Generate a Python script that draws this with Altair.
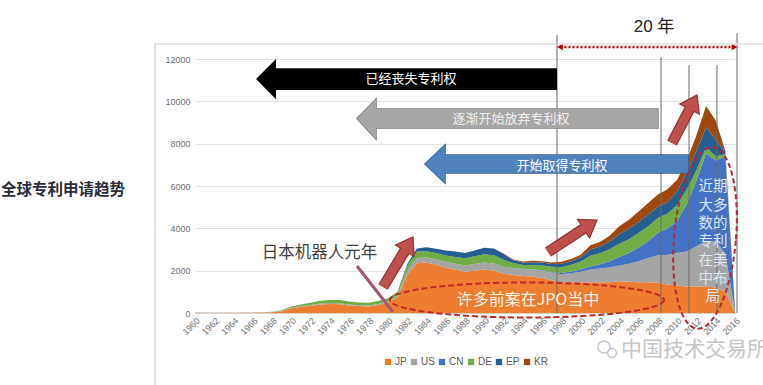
import altair as alt
import pandas as pd

# ---------------- data ----------------
years = list(range(1960, 2017))
series_names = ["JP", "US", "CN", "DE", "EP", "KR"]
series_colors = ["#ED7D31", "#A5A5A5", "#4472C4", "#70AD47", "#255E91", "#9E480E"]

jp = [10, 10, 12, 12, 15, 15, 18, 20, 30,
      80, 220, 290, 340, 400, 420, 410, 360, 330, 310, 380,
      500, 750, 1800, 2350, 2380, 2280, 2150, 2050, 1950, 2000,
      2050, 2000, 1850, 1800, 1750, 1720, 1650, 1550, 1450, 1450,
      1450, 1450, 1450, 1450, 1500, 1480, 1450, 1450, 1430, 1350,
      1300, 1250, 1250, 1250, 1200, 1000, 40]
us = [8, 8, 10, 10, 12, 12, 14, 16, 20,
      20, 25, 30, 40, 50, 50, 50, 45, 40, 40, 45,
      50, 80, 180, 250, 240, 260, 270, 280, 300, 320,
      340, 340, 330, 320, 330, 340, 350, 360, 380, 430,
      500, 600, 650, 700, 750, 850, 1000, 1150, 1300, 1400,
      1550, 1650, 1900, 2150, 2200, 1800, 50]
cn = [0] * 33 + [10, 10, 10, 20, 30, 60, 80,
                 100, 150, 200, 300, 400, 500, 650, 800, 1050, 1250,
                 1500, 2250, 3100, 4150, 3800, 4600, 80]
de = [0, 0, 0, 0, 0, 0, 0, 2, 5,
      30, 60, 80, 100, 130, 150, 150, 140, 130, 130, 140,
      150, 170, 250, 300, 300, 290, 300, 320, 340, 360,
      380, 390, 330, 230, 180, 200, 220, 240, 270, 320,
      380, 500, 520, 560, 620, 650, 680, 700, 710, 700,
      750, 700, 500, 280, 200, 100, 10]
ep = [0] * 22 + [70, 150, 190, 210, 230, 250, 250, 270,
                 310, 320, 280, 130, 110, 130, 140, 140, 170, 170,
                 200, 300, 320, 370, 450, 500, 520, 550, 530, 550,
                 650, 800, 900, 950, 800, 100, 10]
kr = [0] * 32 + [20, 40, 50, 70, 70, 60, 90, 100,
                 120, 200, 210, 270, 380, 420, 500, 550, 580, 600,
                 550, 550, 750, 1000, 900, 50, 10]

tick_years = list(range(1960, 2017, 2))
y_ticks = [0, 2000, 4000, 6000, 8000, 10000, 12000]

rows = []
for idx, (name, vals) in enumerate(zip(series_names, [jp, us, cn, de, ep, kr])):
    for yr, v in zip(years, vals):
        rows.append({"year": yr, "series": name, "value": v, "idx": idx})
df = pd.DataFrame(rows)

CJK = "Noto Sans CJK SC"
LAT = "Liberation Sans"
xs = alt.Scale(domain=[1960, 2016], nice=False, zero=False)
ys = alt.Scale(domain=[0, 12000], nice=False, zero=False)

x_axis = alt.Axis(values=tick_years, format="d", labelAngle=-45, labelFontSize=9,
                  labelColor="#707070", labelFont=LAT, ticks=False, grid=False,
                  domainColor="#d0d0d0", labelPadding=3, labelOverlap=False,
                  labelFlush=False, title="")
y_axis = alt.Axis(values=y_ticks, format="d", labelFontSize=9, labelColor="#707070",
                  labelFont=LAT, ticks=False, domain=False, gridColor="#e3e3e3",
                  labelPadding=5, labelOverlap=False, labelFlush=False, title="")


def X(field):
    return alt.X(field, type="quantitative", scale=xs, axis=x_axis)


def Y(field):
    return alt.Y(field, type="quantitative", scale=ys, axis=y_axis, stack=False)


# ---------------- stacked area ----------------
area = alt.Chart(df).mark_area(opacity=1).encode(
    x=alt.X("year:Q", scale=xs, axis=x_axis),
    y=alt.Y("value:Q", scale=ys, stack="zero", axis=y_axis),
    color=alt.Color("series:N", scale=alt.Scale(domain=series_names, range=series_colors),
                    legend=alt.Legend(orient="none", legendX=188, legendY=298,
                                      direction="horizontal", title=None, symbolType="square",
                                      symbolSize=40, symbolStrokeWidth=0, labelFontSize=10,
                                      labelColor="#595959", labelFont=LAT, columnPadding=2,
                                      labelOffset=2, padding=0)),
    order=alt.Order("idx:Q", sort="ascending"),
)

# ---------------- vertical reference lines ----------------
vlines = pd.DataFrame({
    "x": [1997.54, 2008.33, 2011.23, 2014.13, 2016.21],
    "top": [13134, 12094, 11717, 11717, 13228],
    "bot": [0, 0, 0, 0, 0],
})
vline_layer = alt.Chart(vlines).mark_rule(color="#6a6a6a", strokeWidth=1).encode(
    x=X("x"), y=Y("top"), y2="bot")


# ---------------- block arrows ----------------
def block_arrow(tip, base, end, mid, htop, hbot, stop, sbot, fill, stroke, sw):
    head = pd.DataFrame({"x": [tip, base], "y": [mid, htop], "y2": [mid, hbot]})
    shaft = pd.DataFrame({"x": [base - 0.3], "x2": [end], "y": [stop], "y2": [sbot]})
    out = []
    if sw > 0:
        out.append(alt.Chart(shaft).mark_rect(fill=fill, stroke=stroke, strokeWidth=sw).encode(
            x=X("x"), x2="x2", y=Y("y"), y2="y2"))
        out.append(alt.Chart(head).mark_area(fill=fill, stroke=stroke, strokeWidth=sw,
                                             opacity=1).encode(x=X("x"), y=Y("y"), y2="y2"))
    out.append(alt.Chart(shaft).mark_rect(fill=fill, strokeWidth=0).encode(
        x=X("x"), x2="x2", y=Y("y"), y2="y2"))
    out.append(alt.Chart(head).mark_area(fill=fill, opacity=1).encode(
        x=X("x"), y=Y("y"), y2="y2"))
    return out


arrows = []
arrows += block_arrow(1966.33, 1968.40, 1997.54, 11055, 12000, 10096, 11561, 10535,
                      "#000000", "#000000", 0)
arrows += block_arrow(1976.80, 1978.77, 2008.01, 9189, 10110, 8220, 9638, 8740,
                      "#a6a6a6", "#7a7a7a", 1.5)
arrows += block_arrow(1983.85, 1985.93, 2011.13, 7039, 7937, 6142, 7465, 6614,
                      "#4f81bd", "#35608f", 1.5)

arrow_text = pd.DataFrame({
    "x": [1982.40, 1992.77, 1998.06],
    "y": [11055, 9165, 6945],
    "t": ["已经丧失专利权", "逐渐开始放弃专利权", "开始取得专利权"],
    "c": ["#ffffff", "#f0f0f0", "#ffffff"],
})
arrow_text_layer = alt.Chart(arrow_text).mark_text(font=CJK, fontSize=13, align="center",
                                                   baseline="middle").encode(
    x=X("x"), y=Y("y"), text="t:N", color=alt.Color("c:N", scale=None))

# ---------------- red diagonal arrows ----------------
red = pd.DataFrame({
    "tail_x": [1979.50, 1996.61, 2009.47],
    "tail_y": [1228, 2882, 8031],
    "neck_x": [1981.81, 2000.38, 2011.34],
    "neck_y": [2981, 4006, 9671],
    "tip_x": [1982.61, 2001.69, 2012.06],
    "tip_y": [3590, 4394, 10299],
    "ang": [31, 57, 27.5],
})
red_dark = alt.Chart(red).mark_rule(color="#8c3836", strokeWidth=11, strokeCap="butt").encode(
    x=X("tail_x"), y=Y("tail_y"), x2="neck_x", y2="neck_y")
red_head = alt.Chart(red).mark_point(shape="M0,0 L0.55,0.8 L-0.55,0.8 Z", size=1600, filled=True,
                                     fill="#c0504d", stroke="#8c3836", strokeWidth=1.2,
                                     opacity=1).encode(
    x=X("tip_x"), y=Y("tip_y"), angle=alt.Angle("ang:Q", scale=None))
red_light = alt.Chart(red).mark_rule(color="#c0504d", strokeWidth=8.5, strokeCap="butt").encode(
    x=X("tail_x"), y=Y("tail_y"), x2="neck_x", y2="neck_y")


# ---------------- dashed ellipses ----------------
def ellipse_path(rx, ry):
    k = 0.5523
    return (f"M{rx},0 C{rx},{k*ry:.4f} {k*rx:.4f},{ry} 0,{ry} "
            f"C{-k*rx:.4f},{ry} {-rx},{k*ry:.4f} {-rx},0 "
            f"C{-rx},{-k*ry:.4f} {-k*rx:.4f},{-ry} 0,{-ry} "
            f"C{k*rx:.4f},{-ry} {rx},{-k*ry:.4f} {rx},0 Z")


ell1 = alt.Chart(pd.DataFrame({"x": [1994.43], "y": [614]})).mark_point(
    shape=ellipse_path(1, 0.128), size=274 ** 2, filled=False, stroke="#c0282d",
    strokeWidth=2, strokeDash=[6, 3], opacity=1).encode(x=X("x"), y=Y("y"))
ell2 = alt.Chart(pd.DataFrame({"x": [2012.89], "y": [3543]})).mark_point(
    shape=ellipse_path(0.34, 1), size=182 ** 2, filled=False, stroke="#b02a3a",
    strokeWidth=2, strokeDash=[5, 3], angle=5, opacity=1).encode(x=X("x"), y=Y("y"))

# ---------------- texts inside chart ----------------
jp_text = alt.Chart(pd.DataFrame({"x": [1994.53], "y": [614]})).mark_text(
    text="许多前案在JPO当中", font=CJK, fontSize=16, color="#fff3e8", align="center",
    baseline="middle").encode(x=X("x"), y=Y("y"))

recent_lines = ["近期", "大多", "数的", "专利", "在美", "中布", "局"]
recent_text = alt.Chart(pd.DataFrame({"x": [2013.72], "y": [6260]})).mark_text(
    text=recent_lines, font=CJK, fontSize=14.5, lineHeight=18.3, color="#dce6f2",
    align="center", baseline="top").encode(x=X("x"), y=Y("y"))

robot_text = alt.Chart(pd.DataFrame({"x": [1972.91], "y": [2835]})).mark_text(
    text="日本机器人元年", font=CJK, fontSize=16.5, color="#3f3f3f", align="center",
    baseline="middle").encode(x=X("x"), y=Y("y"))
robot_line = alt.Chart(pd.DataFrame({"x": [1976.80], "y": [2220], "x2": [1980.53],
                                     "y2": [47]})).mark_rule(
    color="#a5566e", strokeWidth=3).encode(x=X("x"), y=Y("y"), x2="x2", y2="y2")

# ---------------- 20 year span ----------------
span = alt.Chart(pd.DataFrame({"x": [1997.9], "x2": [2015.9], "y": [12567]})).mark_rule(
    color="#c00000", strokeWidth=2.5, strokeDash=[2, 2]).encode(x=X("x"), x2="x2", y=Y("y"))
span_heads = alt.Chart(pd.DataFrame({"x": [1997.85, 2015.95], "y": [12567, 12567],
                                     "s": ["triangle-left", "triangle-right"]})).mark_point(
    filled=True, size=45, color="#c00000", opacity=1).encode(
    x=X("x"), y=Y("y"), shape=alt.Shape("s:N", scale=None))
span_text = alt.Chart(pd.DataFrame({"x": [2007.60], "y": [13512]})).mark_text(
    text="20 年", font=f"{LAT}, {CJK}", fontSize=17, color="#222222", align="center",
    baseline="middle").encode(x=X("x"), y=Y("y"))

# ---------------- outside items ----------------
title = alt.Chart(pd.DataFrame({"a": [0]})).mark_text(
    text="全球专利申请趋势", font=CJK, fontSize=15.5, fontWeight="bold", color="#2b2b3b",
    align="right", baseline="middle").encode(x=alt.value(-70), y=alt.value(131))
watermark = alt.Chart(pd.DataFrame({"a": [0]})).mark_text(
    text="中国技术交易所", font=CJK, fontSize=21, color="#c6c6c6", align="left",
    baseline="middle").encode(x=alt.value(426), y=alt.value(291))
wm_icon1 = alt.Chart(pd.DataFrame({"a": [0]})).mark_point(
    shape="circle", size=150, filled=False, stroke="#c8c8c8", strokeWidth=1.5, opacity=1).encode(
    x=alt.value(409), y=alt.value(288))
wm_icon2 = alt.Chart(pd.DataFrame({"a": [0]})).mark_point(
    shape="circle", size=80, filled=False, stroke="#c8c8c8", strokeWidth=1.5, opacity=1).encode(
    x=alt.value(417), y=alt.value(294))
frame_left = alt.Chart(pd.DataFrame({"a": [0]})).mark_rule(color="#d6d6d6", strokeWidth=1.5).encode(
    x=alt.value(-40), y=alt.value(-16), y2=alt.value(326))
frame_top = alt.Chart(pd.DataFrame({"a": [0]})).mark_rule(color="#dedede", strokeWidth=1.5).encode(
    x=alt.value(-40), x2=alt.value(568), y=alt.value(-15))

layers = [area, vline_layer] + arrows + [arrow_text_layer, red_dark, red_head, red_light,
                                         ell1, jp_text, recent_text, ell2, robot_line, robot_text,
                                         span, span_heads, span_text, title, watermark,
                                         wm_icon1, wm_icon2, frame_left, frame_top]

chart = alt.layer(*layers).properties(
    width=540, height=254,
    padding={"left": 195, "top": 59, "right": 28, "bottom": 72},
    autosize=alt.AutoSizeParams(type="none"),
    background="white",
).configure_view(strokeWidth=0)

chart.save("out.html", embed_options={"renderer": "svg", "actions": False})
